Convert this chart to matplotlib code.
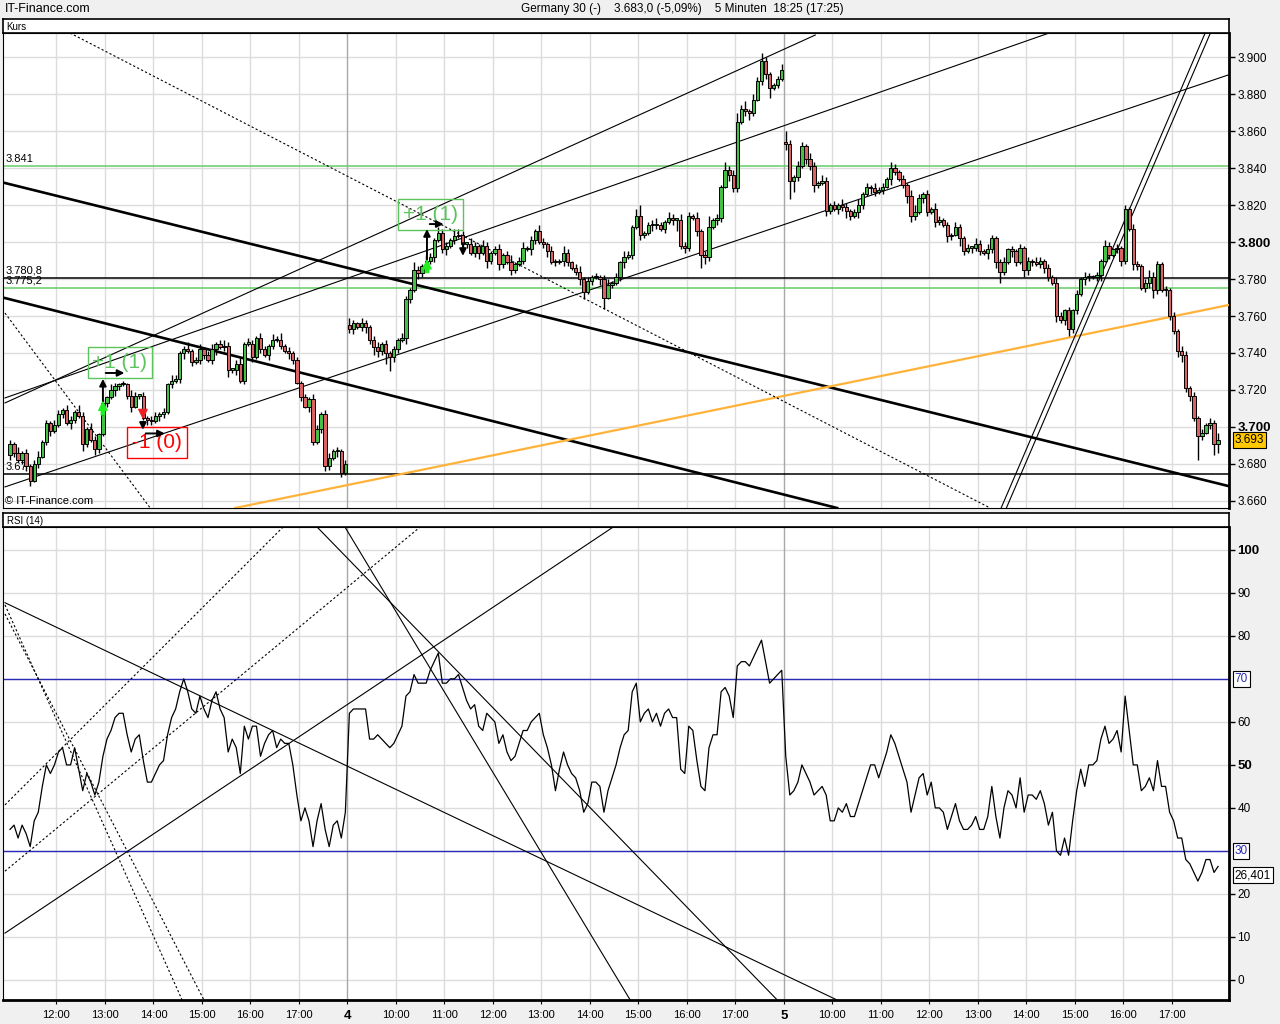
import numpy as np
import matplotlib
matplotlib.use('Agg')
import matplotlib.pyplot as plt
from matplotlib.patches import Rectangle

plt.rcParams['font.family'] = ['Liberation Sans', 'DejaVu Sans']

# ---------------- data (5 minute bars, one row = one hour) ----------------
close_day3 = [3691, 3686, 3682, 3686, 3679, 3671, 3680, 3684, 3692, 3702, 3698, 3701,
              3707, 3709, 3702, 3704, 3708, 3706, 3691, 3699, 3693, 3688, 3696, 3713,
              3716, 3720, 3722, 3723, 3723, 3717, 3711, 3717, 3717, 3705, 3704, 3703,
              3706, 3707, 3708, 3723, 3725, 3726, 3740, 3742, 3741, 3735, 3736, 3742,
              3739, 3736, 3742, 3745, 3743, 3744, 3731, 3731, 3734, 3725, 3745, 3745,
              3738, 3748, 3742, 3739, 3744, 3747, 3747, 3744, 3741, 3740, 3736, 3724,
              3716, 3711, 3715, 3692, 3699, 3707, 3679, 3683, 3687, 3687, 3675, 3680]
close_day4 = [3753, 3756, 3754, 3756, 3754, 3747, 3743, 3741, 3745, 3740, 3738, 3742,
              3747, 3748, 3769, 3774, 3785, 3783, 3787, 3790, 3792, 3801, 3805, 3796,
              3798, 3801, 3803, 3804, 3799, 3799, 3794, 3798, 3794, 3798, 3790, 3794,
              3796, 3788, 3793, 3789, 3785, 3788, 3790, 3797, 3796, 3801, 3806, 3800,
              3799, 3795, 3789, 3789, 3790, 3794, 3789, 3786, 3784, 3780, 3773, 3779,
              3781, 3781, 3780, 3770, 3777, 3778, 3781, 3789, 3792, 3793, 3808, 3814,
              3804, 3805, 3809, 3810, 3809, 3807, 3811, 3813, 3812, 3812, 3798, 3797,
              3814, 3813, 3806, 3793, 3792, 3808, 3812, 3813, 3830, 3839, 3836, 3829,
              3865, 3872, 3871, 3870, 3877, 3887, 3898, 3891, 3883, 3885, 3888, 3893]
close_day5 = [3853, 3833, 3835, 3841, 3852, 3845, 3841, 3831, 3832, 3833, 3817, 3820,
              3818, 3820, 3819, 3817, 3814, 3816, 3820, 3826, 3830, 3829, 3827, 3828,
              3830, 3834, 3840, 3838, 3834, 3831, 3825, 3814, 3816, 3824, 3826, 3816,
              3818, 3811, 3812, 3809, 3803, 3804, 3808, 3802, 3795, 3797, 3797, 3799,
              3795, 3794, 3796, 3802, 3789, 3784, 3789, 3796, 3795, 3789, 3797, 3785,
              3790, 3789, 3788, 3790, 3786, 3781, 3778, 3760, 3758, 3763, 3753, 3763,
              3772, 3780, 3781, 3781, 3781, 3782, 3790, 3798, 3793, 3796, 3797, 3790,
              3818, 3807, 3788, 3787, 3775, 3778, 3781, 3774, 3788, 3774, 3774, 3760,
              3752, 3741, 3739, 3721, 3717, 3705, 3695, 3697, 3701, 3702, 3691, 3693]
# opening price of the first bar of each session (bar index -> price)
session_open = {0: 3685, 84: 3755, 192: 3854}

# wick lengths above / below the body (index points)
wick_up_day3 = [2, 1, 3, 1, 2, 1, 2, 3, 1, 2, 1, 3, 2, 1, 3, 2, 1, 4, 2, 1, 3, 2, 1, 2,
                1, 3, 2, 1, 2, 1, 3, 2, 1, 2, 1, 2, 2, 1, 2, 1, 3, 2, 1, 2, 4, 1, 2, 3,
                1, 2, 3, 1, 2, 3, 2, 1, 2, 4, 1, 3, 2, 1, 3, 2, 1, 3, 2, 4, 1, 2, 1, 2,
                1, 2, 1, 3, 2, 1, 2, 3, 1, 2, 1, 2]
wick_dn_day3 = [3, 2, 1, 2, 3, 3, 1, 2, 1, 2, 3, 1, 1, 2, 1, 3, 2, 1, 4, 2, 1, 3, 2, 1,
                2, 1, 3, 2, 1, 2, 3, 1, 2, 1, 3, 2, 1, 3, 2, 1, 2, 1, 2, 3, 1, 2, 1, 2,
                2, 1, 2, 3, 1, 2, 4, 2, 3, 1, 2, 1, 3, 1, 2, 1, 3, 2, 1, 2, 1, 3, 2, 1,
                2, 1, 3, 2, 1, 2, 3, 2, 1, 3, 2, 1]
wick_up_day4 = [4, 2, 1, 3, 2, 1, 2, 3, 1, 2, 1, 2, 1, 3, 2, 1, 4, 2, 1, 3, 2, 1, 3, 2,
                2, 1, 4, 3, 2, 1, 3, 2, 1, 3, 2, 1, 2, 3, 1, 2, 4, 1, 2, 3, 1, 2, 1, 3,
                2, 1, 3, 2, 1, 4, 2, 1, 2, 3, 1, 2, 1, 2, 1, 2, 3, 1, 2, 1, 3, 2, 1, 4,
                6, 1, 2, 2, 3, 2, 1, 3, 2, 1, 3, 2, 2, 1, 3, 1, 2, 6, 1, 2, 1, 4, 2, 3,
                5, 2, 4, 1, 3, 2, 4, 2, 1, 1, 2, 3]
wick_dn_day4 = [2, 3, 1, 2, 3, 2, 4, 3, 2, 6, 8, 3, 2, 1, 3, 2, 1, 3, 2, 1, 2, 3, 1, 2,
                3, 1, 2, 1, 3, 2, 1, 2, 3, 1, 4, 2, 1, 3, 2, 1, 3, 2, 1, 2, 1, 3, 2, 1,
                2, 3, 1, 2, 1, 3, 2, 1, 2, 3, 4, 1, 2, 1, 3, 6, 1, 2, 1, 2, 3, 1, 2, 1,
                3, 2, 1, 3, 2, 1, 2, 1, 3, 6, 2, 3, 2, 1, 3, 7, 4, 2, 1, 3, 2, 1, 3, 2,
                2, 1, 3, 4, 2, 1, 2, 3, 5, 1, 2, 1]
wick_up_day5 = [6, 2, 1, 3, 2, 1, 3, 2, 1, 3, 2, 1, 2, 1, 3, 2, 1, 2, 3, 1, 2, 1, 3, 2,
                2, 1, 3, 2, 1, 2, 1, 3, 4, 2, 1, 2, 1, 3, 2, 1, 2, 1, 3, 2, 1, 2, 1, 3,
                2, 1, 3, 2, 1, 2, 3, 1, 2, 1, 2, 1, 2, 1, 3, 2, 1, 2, 1, 3, 2, 1, 2, 1,
                2, 1, 3, 2, 1, 2, 1, 3, 2, 1, 2, 1, 2, 1, 3, 2, 1, 2, 4, 3, 2, 1, 2, 1,
                2, 1, 3, 2, 1, 2, 1, 2, 1, 3, 2, 4]
wick_dn_day5 = [3, 10, 6, 2, 1, 3, 2, 4, 2, 1, 3, 2, 1, 3, 2, 4, 2, 1, 3, 2, 1, 3, 2, 1,
                2, 1, 3, 2, 1, 2, 4, 3, 2, 1, 3, 2, 1, 3, 2, 1, 3, 2, 1, 4, 2, 1, 3, 2,
                2, 1, 3, 2, 3, 6, 2, 1, 3, 2, 1, 4, 3, 2, 1, 2, 3, 2, 1, 3, 2, 3, 4, 2,
                2, 1, 3, 2, 1, 2, 3, 1, 2, 1, 2, 3, 2, 1, 3, 2, 1, 2, 3, 4, 2, 1, 3, 2,
                2, 3, 4, 2, 3, 2, 13, 2, 1, 2, 6, 5]

rsi_day3 = [35, 36, 33, 36, 34, 31, 37, 39, 45, 50, 48, 50,
            53, 54, 50, 50, 54, 49, 44, 48, 46, 43, 46, 52,
            56, 58, 61, 62, 62, 57, 53, 56, 57, 51, 46, 46,
            48, 50, 51, 57, 61, 63, 67, 70, 67, 63, 62, 66,
            63, 61, 65, 67, 63, 61, 53, 56, 54, 48, 59, 56,
            59, 59, 52, 55, 57, 58, 54, 56, 55, 55, 50, 43,
            37, 40, 37, 31, 37, 41, 35, 31, 36, 37, 33, 39]
rsi_day4 = [62, 63, 63, 63, 63, 56, 56, 57, 56, 55, 54, 55,
            57, 59, 66, 67, 71, 69, 69, 69, 72, 74, 76, 69,
            69, 70, 70, 71, 68, 65, 63, 64, 59, 58, 62, 61,
            60, 55, 57, 53, 51, 52, 55, 58, 58, 60, 61, 62,
            57, 54, 50, 44, 49, 53, 50, 48, 47, 44, 39, 41,
            46, 46, 45, 39, 44, 47, 50, 54, 57, 58, 67, 69,
            60, 62, 63, 60, 62, 59, 62, 63, 61, 61, 49, 48,
            59, 58, 51, 45, 44, 54, 57, 57, 67, 68, 66, 61,
            73, 74, 74, 73, 75, 77, 79, 74, 69, 70, 71, 72]
rsi_day5 = [52, 43, 44, 46, 50, 48, 46, 43, 44, 45, 43, 37,
            37, 40, 39, 41, 38, 38, 41, 44, 47, 50, 50, 47,
            50, 53, 57, 55, 52, 49, 46, 39, 43, 47, 48, 43,
            46, 40, 40, 39, 35, 38, 41, 37, 35, 35, 36, 38,
            35, 35, 38, 45, 38, 33, 40, 44, 43, 40, 47, 39,
            43, 43, 42, 44, 41, 36, 39, 30, 29, 33, 29, 37,
            44, 49, 45, 50, 50, 51, 56, 59, 55, 56, 58, 53,
            66, 58, 50, 50, 44, 45, 47, 44, 51, 45, 45, 39,
            37, 33, 33, 28, 27, 25, 23, 25, 28, 28, 25, 26.401]

# x axis labels (bar index of each full hour)
hour_ticks = [12, 24, 36, 48, 60, 72, 84, 96, 108, 120, 132, 144, 156, 168, 180,
              192, 204, 216, 228, 240, 252, 264, 276, 288]
hour_labels = ['12:00', '13:00', '14:00', '15:00', '16:00', '17:00', '4',
               '10:00', '11:00', '12:00', '13:00', '14:00', '15:00', '16:00', '17:00', '5',
               '10:00', '11:00', '12:00', '13:00', '14:00', '15:00', '16:00', '17:00']
day_ticks = [84, 192]

price_ticks = [3660, 3680, 3700, 3720, 3740, 3760, 3780, 3800, 3820, 3840, 3860, 3880, 3900]
rsi_ticks = [0, 10, 20, 40, 50, 60, 80, 90, 100]

# horizontal levels drawn on the price panel
levels = [3841.0, 3780.8, 3775.2, 3674.6]
level_labels = ['3.841', '3.780,8', '3.775,2', '3.67']
level_colors = ['#66cc66', 'black', '#66cc66', 'black']

last_price = 3693
last_rsi = 26.401

# ---------------- prepare candles ----------------
close = np.array(close_day3 + close_day4 + close_day5, dtype=float)
wick_up = np.array(wick_up_day3 + wick_up_day4 + wick_up_day5, dtype=float)
wick_dn = np.array(wick_dn_day3 + wick_dn_day4 + wick_dn_day5, dtype=float)
rsi = np.array(rsi_day3 + rsi_day4 + rsi_day5, dtype=float)
assert len(close) == len(wick_up) == len(wick_dn) == len(rsi) == 300

n = len(close)
idx = np.arange(n)
opens = np.r_[close[0], close[:-1]]
for k, v in session_open.items():
    opens[k] = v
highs = np.maximum(opens, close) + wick_up
lows = np.minimum(opens, close) - wick_dn
up = close >= opens

GREEN = '#44c044'
RED = '#d96262'
GRID = '#dcdcdc'
SANS = ['Liberation Sans', 'DejaVu Sans']

W, H = 1280, 1024


def box(x0, y0, x1, y1):
    return [x0 / W, 1 - y1 / H, (x1 - x0) / W, (y1 - y0) / H]


fig = plt.figure(figsize=(12.8, 10.24), dpi=100, facecolor='#f0f0f0')

ax = fig.add_axes(box(3, 33, 1229, 508))
hdr = fig.add_axes(box(3, 19, 1229, 33))
hdr2 = fig.add_axes(box(3, 513, 1229, 527))
ax2 = fig.add_axes(box(3, 527, 1229, 1000))

xlim = (-1.73, 301.7)

for h, label in ((hdr, 'Kurs'), (hdr2, 'RSI (14)')):
    h.set_xticks([])
    h.set_yticks([])
    h.set_facecolor('white')
    for s in h.spines.values():
        s.set_linewidth(1.2)
    h.text(0.003, 0.45, label, fontsize=7, va='center', ha='left', transform=h.transAxes)

# ---------------- price panel ----------------
ax.set_xlim(*xlim)
ax.set_ylim(3656.2, 3913)
for y in price_ticks:
    ax.axhline(y, color=GRID, lw=1, zorder=0)
for t in hour_ticks:
    ax.axvline(t - 0.5, color='#a8a8a8' if t in day_ticks else GRID, lw=1, zorder=0)

for lv, lab, col in zip(levels, level_labels, level_colors):
    ax.axhline(lv, color=col, lw=1.1, zorder=2)
    ax.text(-1.2, lv + 1.2, lab, fontsize=8, va='bottom', ha='left', zorder=6)

# trend lines (bar index, price)
price_lines = [
    ((-1.24, 3831.9), (301.5, 3668.1), 'black', 1.9, '-'),
    ((-1.24, 3769.7), (204.7, 3656.2), 'black', 1.9, '-'),
    ((55.7, 3656.2), (301.5, 3765.9), '#ffb23a', 1.6, '-'),
    ((-1.24, 3713.0), (199.3, 3911.9), 'black', 0.8, '-'),
    ((-1.24, 3715.7), (257.2, 3913.0), 'black', 0.8, '-'),
    ((-1.24, 3667.6), (301.5, 3890.3), 'black', 0.8, '-'),
    ((14.85, 3913.0), (242.6, 3656.2), 'black', 0.8, (0, (2, 2))),
    ((-1.24, 3761.6), (34.7, 3656.2), 'black', 0.8, (0, (2, 2))),
    ((245.3, 3656.2), (295.8, 3913.0), 'black', 0.8, '-'),
    ((246.6, 3656.2), (297.1, 3913.0), 'black', 0.8, '-'),
]
for (x0, y0), (x1, y1), col, lw, ls in price_lines:
    ax.plot([x0, x1], [y0, y1], color=col, lw=lw, ls=ls, zorder=5)

ax.vlines(idx, lows, highs, color='black', lw=1.0, zorder=6)
body = np.abs(close - opens)
body = np.where(body < 0.8, 0.8, body)
ax.bar(idx[up], body[up], bottom=np.minimum(opens, close)[up], width=0.82,
       color=GREEN, edgecolor='black', lw=0.7, zorder=7)
ax.bar(idx[~up], body[~up], bottom=np.minimum(opens, close)[~up], width=0.82,
       color=RED, edgecolor='black', lw=0.7, zorder=7)

# signal boxes and arrows
sig_green = '#5cc45c'
ax.add_patch(Rectangle((19.3, 3726.5), 15.8, 16.7, fill=False, ec=sig_green, lw=1, zorder=8))
ax.text(27.2, 3734.6, '+1 (1)', color=sig_green, fontsize=15, family=SANS,
        ha='center', va='center', zorder=8)
ax.add_patch(Rectangle((96.0, 3806.5), 16.1, 16.7, fill=False, ec=sig_green, lw=1, zorder=8))
ax.text(104.0, 3814.7, '+1 (1)', color=sig_green, fontsize=15, family=SANS,
        ha='center', va='center', zorder=8)
ax.add_patch(Rectangle((29.0, 3683.2), 14.8, 16.8, fill=False, ec='red', lw=1, zorder=8))
ax.text(36.4, 3691.4, '-1 (0)', color='red', fontsize=15, family=SANS,
        ha='center', va='center', zorder=8)

arrow_k = dict(arrowstyle='-|>', color='black', lw=1.4, mutation_scale=10)
ax.annotate('', xy=(23.0, 3727.5), xytext=(23.0, 3705.0), arrowprops=arrow_k, zorder=9)
ax.annotate('', xy=(29.0, 3729.2), xytext=(23.0, 3729.2), arrowprops=arrow_k, zorder=9)
ax.annotate('', xy=(23.0, 3715.0), xytext=(23.0, 3705.0),
            arrowprops=dict(arrowstyle='simple', fc='#22ee22', ec='#22ee22', mutation_scale=12), zorder=9)
ax.annotate('', xy=(32.9, 3703.5), xytext=(32.9, 3711.0),
            arrowprops=dict(arrowstyle='simple', fc='#ee2020', ec='#ee2020', mutation_scale=12), zorder=9)
ax.annotate('', xy=(32.9, 3697.0), xytext=(32.9, 3704.0), arrowprops=arrow_k, zorder=9)
ax.annotate('', xy=(39.0, 3696.5), xytext=(32.9, 3696.5), arrowprops=arrow_k, zorder=9)
ax.annotate('', xy=(103.2, 3808.5), xytext=(103.2, 3789.0), arrowprops=arrow_k, zorder=9)
ax.annotate('', xy=(108.0, 3809.7), xytext=(103.2, 3809.7), arrowprops=arrow_k, zorder=9)
ax.annotate('', xy=(103.2, 3791.5), xytext=(103.2, 3782.0),
            arrowprops=dict(arrowstyle='simple', fc='#22ee22', ec='#22ee22', mutation_scale=12), zorder=9)
ax.annotate('', xy=(112.1, 3791.0), xytext=(112.1, 3801.0), arrowprops=arrow_k, zorder=9)

ax.text(-1.2, 3657.5, '\u00a9 IT-Finance.com', fontsize=8, va='bottom', ha='left', zorder=9)

ax.set_xticks([])
ax.yaxis.tick_right()
ax.set_yticks(price_ticks)
ax.set_yticklabels(['3.%03d' % (v - 3000) for v in price_ticks], fontsize=8.5)
for t, v in zip(ax.get_yticklabels(), price_ticks):
    if v in (3700, 3800):
        t.set_fontweight('bold')
        t.set_fontsize(9.5)
ax.tick_params(axis='y', direction='out', length=4, width=1, pad=2)
ax.spines['right'].set_linewidth(2)
ax.text(1.0045, last_price, '3.693', transform=ax.get_yaxis_transform(), fontsize=8.5,
        va='center', ha='left', zorder=10,
        bbox=dict(boxstyle='square,pad=0.15', fc='#ffc800', ec='black', lw=0.8))

# ---------------- RSI panel ----------------
ax2.set_xlim(*xlim)
ax2.set_ylim(-4.65, 105.3)
for y in range(0, 101, 10):
    ax2.axhline(y, color=GRID, lw=1, zorder=0)
for t in hour_ticks:
    ax2.axvline(t - 0.5, color='#a8a8a8' if t in day_ticks else GRID, lw=1, zorder=0)
ax2.axhline(70, color='#2a2ab8', lw=1, zorder=2)
ax2.axhline(30, color='#2a2ab8', lw=1, zorder=2)

rsi_lines = [
    ((-1.24, 87.7), (204.7, -4.65), '-'),
    ((82.9, 105.3), (153.5, -4.65), '-'),
    ((76.0, 105.3), (189.9, -4.65), '-'),
    ((-1.24, 10.9), (149.3, 105.3), '-'),
    ((-1.24, 40.7), (67.6, 105.3), (0, (2, 2))),
    ((-1.24, 25.3), (101.5, 105.3), (0, (2, 2))),
    ((-1.24, 87.2), (42.6, -4.65), (0, (2, 2))),
    ((-1.24, 85.1), (48.0, -4.65), (0, (2, 2))),
]
for (x0, y0), (x1, y1), ls in rsi_lines:
    ax2.plot([x0, x1], [y0, y1], color='black', lw=0.8, ls=ls, zorder=3)

ax2.plot(idx, rsi, color='black', lw=0.9, zorder=4)

ax2.yaxis.tick_right()
ax2.set_yticks(rsi_ticks)
ax2.set_yticklabels([str(v) for v in rsi_ticks], fontsize=8.5)
for t, v in zip(ax2.get_yticklabels(), rsi_ticks):
    if v in (50, 100):
        t.set_fontweight('bold')
        t.set_fontsize(9.5)
ax2.tick_params(axis='y', direction='out', length=4, width=1, pad=2)
ax2.spines['right'].set_linewidth(2)
for v in (70, 30):
    ax2.text(1.0045, v, str(v), transform=ax2.get_yaxis_transform(), fontsize=8.5, color='#2a2ab8',
             va='center', ha='left', bbox=dict(boxstyle='square,pad=0.15', fc='white', ec='black', lw=0.8))
ax2.text(1.0045, last_rsi - 2.0, '26,401', transform=ax2.get_yaxis_transform(), fontsize=8.5,
         va='center', ha='left', bbox=dict(boxstyle='square,pad=0.15', fc='white', ec='black', lw=0.8))

ax2.set_xticks(np.array(hour_ticks) - 0.5)
ax2.set_xticklabels(hour_labels, fontsize=8)
for t, lab in zip(ax2.get_xticklabels(), hour_labels):
    if lab in ('4', '5'):
        t.set_fontweight('bold')
        t.set_fontsize(9.5)
ax2.tick_params(axis='x', direction='out', length=3, pad=4)
ax2.spines['bottom'].set_linewidth(2)

# ---------------- title ----------------
fig.text(5 / W, 1 - 9 / H, 'IT-Finance.com', fontsize=9, va='center', ha='left')
fig.text(682 / W, 1 - 9 / H, 'Germany 30 (-)    3.683,0 (-5,09%)    5 Minuten  18:25 (17:25)',
         fontsize=8.5, va='center', ha='center')

fig.savefig('out.png', dpi=100, facecolor=fig.get_facecolor())
